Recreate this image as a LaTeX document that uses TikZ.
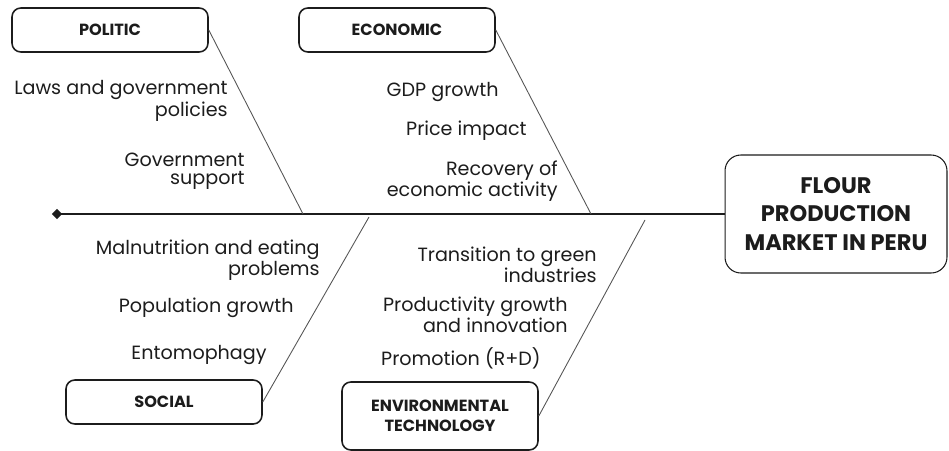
\documentclass[tikz,border=0pt]{standalone}
\usepackage{fontspec}
\setmainfont{Poppins}
\usepackage{tikz}
\usetikzlibrary{positioning,shapes.geometric}
\usepackage{xcolor}

\definecolor{ink}{HTML}{1C1C1C}
\definecolor{bone}{HTML}{555555}

\begin{document}
\begin{tikzpicture}[x=0.02cm,y=-0.02cm,
    cat/.style={rectangle,rounded corners=5pt,draw=ink,line width=0.9pt,minimum width=3.92cm,minimum height=0.88cm,align=center,font=\fontsize{9.2}{11.5}\selectfont\bfseries,text=ink},
    head/.style={rectangle,rounded corners=9pt,draw=ink,line width=0.6pt,minimum width=4.44cm,minimum height=2.36cm,align=center,font=\fontsize{12.8}{16.4}\selectfont\bfseries,text=ink},
    cause/.style={anchor=east,align=right,inner sep=0pt,font=\fontsize{10.9}{10.4}\selectfont,text=ink},
    bone/.style={draw=bone,line width=0.5pt}]

\useasboundingbox (0,0) rectangle (949,450);

% head and spine
\node[head] (market) at (836,214) {FLOUR\\PRODUCTION\\MARKET IN PERU};
\node[diamond,fill=ink,inner sep=0pt,minimum size=6pt] (tail) at (57,214) {};
\draw[ink,line width=1.6pt] (tail.center) -- (market.west);

% categories
\node[cat] (politic) at (110,30) {POLITIC};
\node[cat] (economic) at (397,30) {ECONOMIC};
\node[cat] (social) at (164,402) {SOCIAL};
\node[cat,minimum height=1.36cm] (envtech) at (440,416) {ENVIRONMENTAL\\TECHNOLOGY};

% where the bones meet the spine
\coordinate (jp) at (303,214);
\coordinate (je) at (591,214);
\coordinate (js) at (369,217);
\coordinate (jt) at (645,220);

\draw[bone] (politic.east) -- (jp);
\draw[bone] (economic.east) -- (je);
\draw[bone] (social.east) -- (js);
\draw[bone] (envtech.east) -- (jt);

% causes
\node[cause] (laws) at (228,101) {Laws and government\\policies};
\node[cause] (support) at (245,171) {Government\\support};
\node[cause] (gdp) at (499,92) {GDP growth};
\node[cause] (price) at (527,131) {Price impact};
\node[cause] (recovery) at (558,181) {Recovery of\\economic activity};
\node[cause] (malnut) at (320,260) {Malnutrition and eating\\problems};
\node[cause] (popul) at (294,308) {Population growth};
\node[cause] (ento) at (267,355) {Entomophagy};
\node[cause] (green) at (597,265) {Transition to green\\industries};
\node[cause] (product) at (568,315) {Productivity growth\\and innovation};
\node[cause] (promo) at (541,358) {Promotion (R+D)};

\end{tikzpicture}
\end{document}
